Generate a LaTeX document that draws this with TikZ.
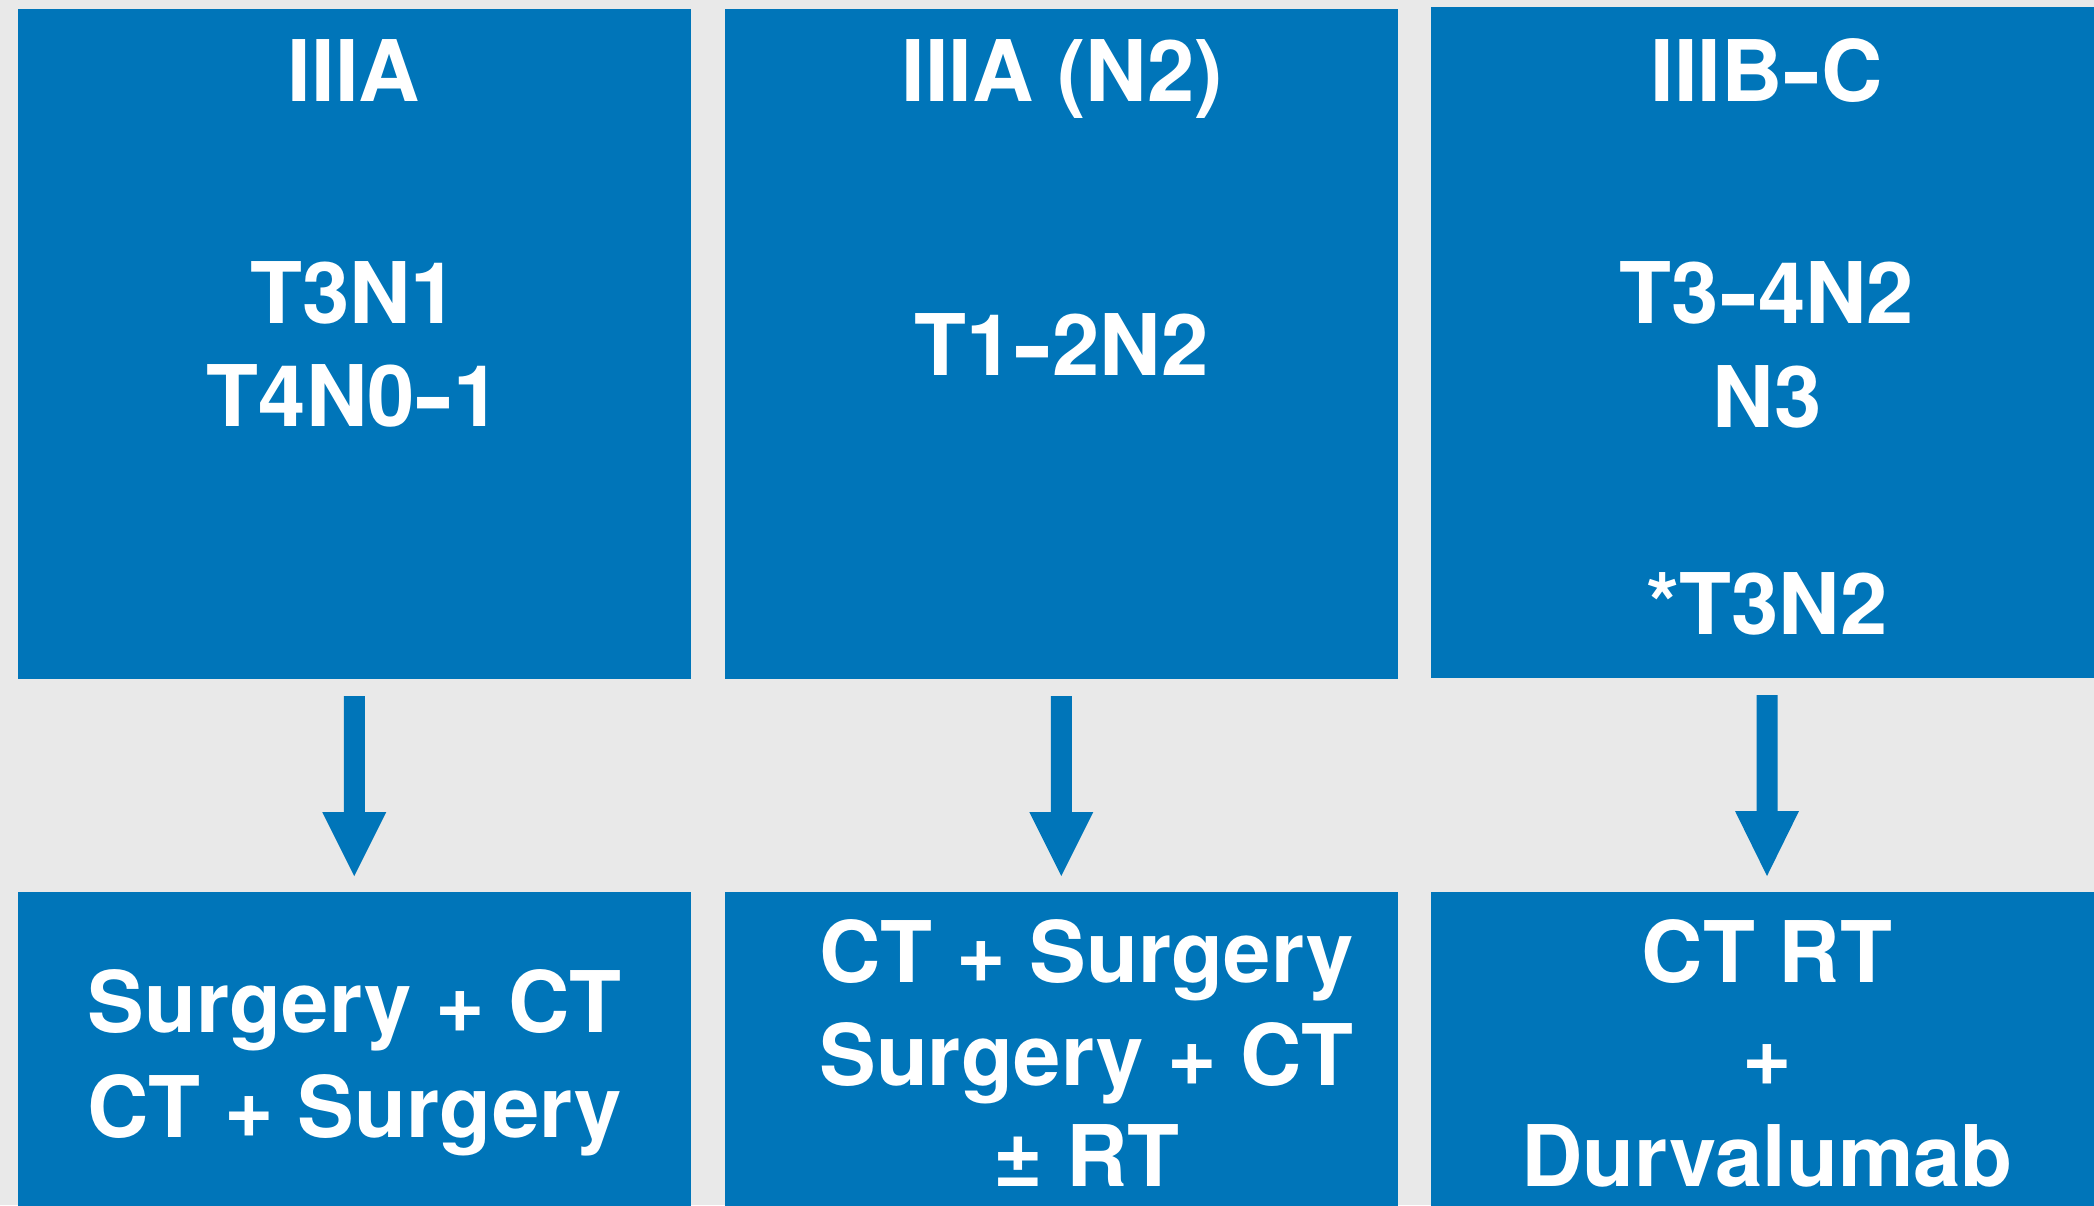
\documentclass[tikz,border=0pt]{standalone}
\usepackage{fontspec}
\setmainfont{TeX Gyre Heros}
\usetikzlibrary{calc}
\definecolor{boxblue}{RGB}{0,117,185}
\definecolor{bggray}{RGB}{233,233,233}
\newcommand{\hy}{\scalebox{1.38}[1]{-}}
\tikzset{
  box/.style={fill=boxblue, draw=none, inner sep=0pt, outer sep=0pt},
  lbl/.style={text=white, anchor=base, inner sep=0pt, outer sep=0pt,
    font=\fontsize{85}{102}\selectfont\bfseries},
  arr/.style={fill=boxblue, draw=none}
}
\begin{document}
\begin{tikzpicture}[x=1pt, y=-1pt]
\useasboundingbox (0,0) rectangle (2094,1205);
\fill[bggray] (0,0) rectangle (2094,1205);
\begin{scope}
\clip (0,0) rectangle (2094,1205);
% top boxes
\node[box, minimum width=672.5pt, minimum height=670.5pt] (t1) at (354.25,343.75) {};
\node[box, minimum width=672.5pt, minimum height=670.5pt] (t2) at (1061.25,343.75) {};
\node[box, minimum width=672pt, minimum height=671pt] (t3) at (1767,342.5) {};
% bottom boxes
\node[box, minimum width=672.5pt, minimum height=328pt] (b1) at (354.25,1056) {};
\node[box, minimum width=672.5pt, minimum height=328pt] (b2) at (1061.25,1056) {};
\node[box, minimum width=672pt, minimum height=328pt] (b3) at (1767,1056) {};
\end{scope}
% top texts
\node[lbl] (h1) at (354,101.7) {IIIA};
\node[lbl] (h2) at (1062,101.7) {IIIA (N2)};
\node[lbl] (h3) at (1767,101.7) {IIIB\hy C};
\node[lbl] (s1a) at (354,323.3) {T3N1};
\node[lbl] (s1b) at (354,426.7) {T4N0\hy 1};
\node[lbl] (s2a) at (1061.5,375) {T1\hy 2N2};
\node[lbl] (s3a) at (1767,323.3) {T3\hy 4N2};
\node[lbl] (s3b) at (1767,427.3) {N3};
\node[lbl] (s3c) at (1767,634.3) {*T3N2};
% bottom texts
\node[lbl] (r1a) at (354.6,1032.3) {Surgery + CT};
\node[lbl] (r1b) at (354.6,1137) {CT + Surgery};
\node[lbl] (r2a) at (1086.5,982) {CT + Surgery};
\node[lbl] (r2b) at (1086.5,1085) {Surgery + CT};
\node[lbl] (r2c) at (1086.5,1186) {± RT};
\node[lbl] (r3a) at (1767,982) {CT RT};
\node[lbl] (r3b) at (1767,1085) {+};
\node[lbl] (r3c) at (1767,1186) {Durvalumab};
% arrows
\foreach \a/\b in {t1/b1,t2/b2,t3/b3}{
  \fill[arr] ($(\a.south)+(-10.5,17)$) -- ($(\a.south)+(10.5,17)$)
    -- ($(\a.south)+(10.5,133)$) -- ($(\a.south)+(32,133)$)
    -- ($(\b.north)+(0,-16)$)
    -- ($(\a.south)+(-32,133)$) -- ($(\a.south)+(-10.5,133)$) -- cycle;
}
\end{tikzpicture}
\end{document}
